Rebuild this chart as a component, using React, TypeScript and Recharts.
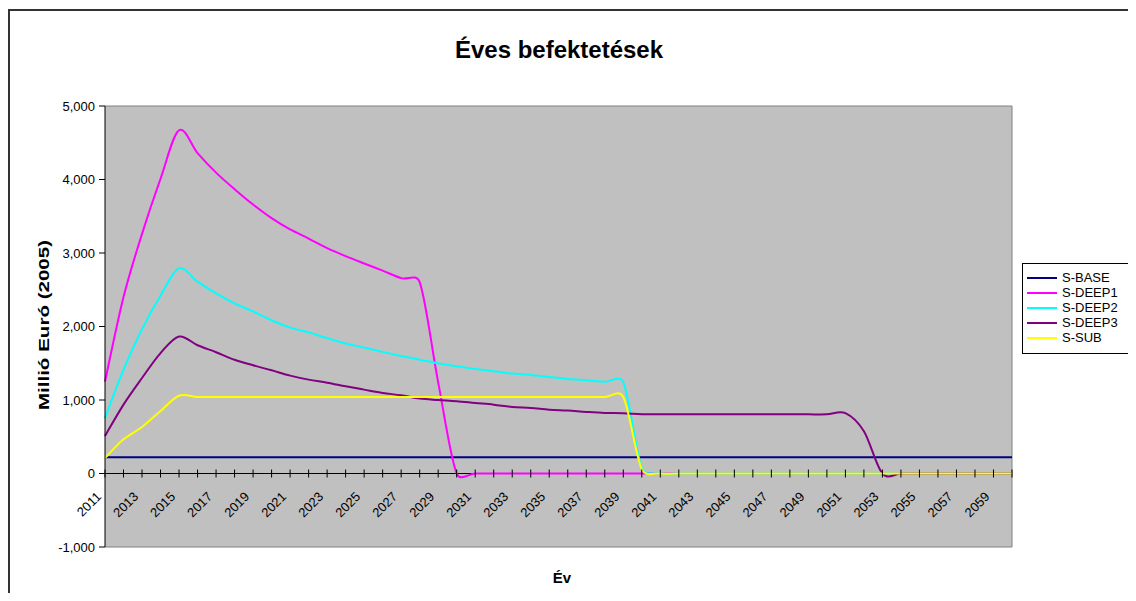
import React from 'react';
import { LineChart, Line, XAxis, YAxis, CartesianGrid, ReferenceLine, Legend } from 'recharts';

// ---------- data ----------
const years = [
  '2011','2012','2013','2014','2015','2016','2017','2018','2019','2020',
  '2021','2022','2023','2024','2025','2026','2027','2028','2029','2030',
  '2031','2032','2033','2034','2035','2036','2037','2038','2039','2040',
  '2041','2042','2043','2044','2045','2046','2047','2048','2049','2050',
  '2051','2052','2053','2054','2055','2056','2057','2058','2059','2060',
];

const sBase = [
  220,220,220,220,220,220,220,220,220,220,
  220,220,220,220,220,220,220,220,220,220,
  220,220,220,220,220,220,220,220,220,220,
  220,220,220,220,220,220,220,220,220,220,
  220,220,220,220,220,220,220,220,220,220,
];

const sDeep1 = [
  1250,2400,3260,4010,4670,4360,4094,3868,3659,3474,
  3320,3197,3066,2957,2857,2760,2658,2604,1240,0,
  0,0,0,0,0,0,0,0,0,0,
  0,0,0,0,0,0,0,0,0,0,
  0,0,0,0,0,0,0,0,0,0,
];

const sDeep2 = [
  755,1412,1964,2421,2792,2610,2450,2315,2205,2085,
  1985,1920,1842,1768,1715,1655,1600,1549,1499,1458,
  1422,1390,1359,1341,1313,1286,1268,1248,1242,80,
  0,0,0,0,0,0,0,0,0,0,
  0,0,0,0,0,0,0,0,0,0,
];

const sDeep3 = [
  510,937,1299,1638,1864,1745,1650,1548,1472,1404,
  1332,1277,1236,1187,1141,1096,1064,1019,1000,984,
  960,937,906,892,869,856,838,824,820,806,
  805,805,805,805,805,805,805,805,805,805,
  822,575,0,0,0,0,0,0,0,0,
];

const sSub = [
  210,465,632,850,1058,1042,1042,1042,1042,1042,
  1042,1042,1042,1042,1042,1042,1042,1042,1042,1042,
  1042,1042,1042,1042,1042,1042,1042,1042,1040,60,
  0,0,0,0,0,0,0,0,0,0,
  0,0,0,0,0,0,0,0,0,0,
];

const yTicks = [-1000, 0, 1000, 2000, 3000, 4000, 5000];

const seriesNames = ['S-BASE', 'S-DEEP1', 'S-DEEP2', 'S-DEEP3', 'S-SUB'];
const seriesColors = ['#000080', '#FF00FF', '#00FFFF', '#800080', '#FFFF00'];

const rows = years.map((year, i) => ({
  year,
  base: sBase[i],
  deep1: sDeep1[i],
  deep2: sDeep2[i],
  deep3: sDeep3[i],
  sub: sSub[i],
}));

// ---------- layout ----------
const FONT = '"Liberation Sans", Arial, Helvetica, sans-serif';
const CHART_W = 1128;
const CHART_H = 585;
const M_TOP = 98;
const M_RIGHT = 124;
const X_AXIS_H = 46;
const Y_AXIS_W = 97;
const Y_MIN = -1000;
const Y_MAX = 5000;
const PLOT_H = CHART_H - M_TOP - X_AXIS_H;
const ZERO_Y = M_TOP + PLOT_H * (Y_MAX / (Y_MAX - Y_MIN));

// Excel-like smoothed line: Catmull-Rom Bezier with control arms clamped to half the segment
const excelSmooth: any = (context: any) => {
  let pts: number[][] = [];
  const dist = (a: number[], b: number[]) => Math.hypot(b[0] - a[0], b[1] - a[1]);
  return {
    areaStart() {},
    areaEnd() {},
    lineStart() { pts = []; },
    point(x: number, y: number) { pts.push([+x, +y]); },
    lineEnd() {
      const n = pts.length;
      if (!n) return;
      context.moveTo(pts[0][0], pts[0][1]);
      if (n === 1) return;
      for (let i = 0; i < n - 1; i++) {
        const p0 = pts[Math.max(i - 1, 0)];
        const p1 = pts[i];
        const p2 = pts[i + 1];
        const p3 = pts[Math.min(i + 2, n - 1)];
        const d12 = dist(p1, p2);
        const d02 = dist(p0, p2);
        const d13 = dist(p1, p3);
        let f0 = 1 / 6;
        let f1 = 1 / 6;
        if (d02 > 0 && d02 / 6 >= d12 / 2) f0 = d12 / (2 * d02);
        if (d13 > 0 && d13 / 6 >= d12 / 2) f1 = d12 / (2 * d13);
        context.bezierCurveTo(
          p1[0] + f0 * (p2[0] - p0[0]),
          p1[1] + f0 * (p2[1] - p0[1]),
          p2[0] - f1 * (p3[0] - p1[0]),
          p2[1] - f1 * (p3[1] - p1[1]),
          p2[0],
          p2[1]
        );
      }
    },
  };
};

const fmt = (v: number) => v.toLocaleString('en-US');

const XTick = (props: any) => {
  const { x, payload, index } = props;
  const idx = payload && payload.index != null ? payload.index : index;
  const lx = x - 3;
  const ly = ZERO_Y + 24;
  return (
    <g>
      <line x1={x} x2={x} y1={ZERO_Y - 4} y2={ZERO_Y + 4} stroke="#000" strokeWidth={1} />
      {idx % 2 === 0 && (
        <text
          x={lx}
          y={ly}
          textAnchor="end"
          transform={`rotate(-45, ${lx}, ${ly})`}
          fontSize={13}
          fontFamily={FONT}
          fill="#000"
        >
          {payload.value}
        </text>
      )}
    </g>
  );
};

const LegendBox = (props: any) => {
  const payload = props.payload || [];
  return (
    <div
      style={{
        border: '1px solid #000',
        background: '#fff',
        padding: '6px 0 8px 4px',
        width: 130,
        fontFamily: FONT,
        fontSize: 13,
        color: '#000',
      }}
    >
      {payload.map((p: any) => (
        <div key={p.value} style={{ display: 'flex', alignItems: 'center', height: 15 }}>
          <svg width={30} height={4} style={{ display: 'block' }}>
            <line x1={0} x2={30} y1={2} y2={2} stroke={p.color} strokeWidth={2} />
          </svg>
          <span style={{ marginLeft: 5, lineHeight: '15px' }}>{p.value}</span>
        </div>
      ))}
    </div>
  );
};

export default function App() {
  const keys = ['base', 'deep1', 'deep2', 'deep3', 'sub'];
  return (
    <div style={{ position: 'relative', width: CHART_W, height: CHART_H, overflow: 'hidden', background: '#fff' }}>
      <div
        style={{
          position: 'absolute',
          left: 0,
          top: 1,
          width: 1400,
          height: 900,
          borderLeft: '2px solid #333',
          borderTop: '2px solid #333',
          boxSizing: 'border-box',
        }}
      />
      <LineChart
        width={CHART_W}
        height={CHART_H}
        data={rows}
        margin={{ top: M_TOP, right: M_RIGHT, bottom: 0, left: 0 }}
      >
        <CartesianGrid horizontal={false} vertical={false} fill="#C0C0C0" fillOpacity={1} />
        <XAxis
          dataKey="year"
          interval={0}
          axisLine={false}
          tickLine={false}
          height={X_AXIS_H}
          tick={<XTick />}
        />
        <YAxis
          domain={[Y_MIN, Y_MAX]}
          ticks={yTicks}
          width={Y_AXIS_W}
          tickSize={6}
          tickMargin={4}
          allowDataOverflow
          axisLine={{ stroke: '#000', strokeWidth: 1 }}
          tickLine={{ stroke: '#000', strokeWidth: 1 }}
          tick={{ fontSize: 13, fill: '#000', fontFamily: FONT }}
          tickFormatter={fmt}
        />
        <ReferenceLine y={Y_MAX} stroke="#808080" strokeWidth={1} />
        <ReferenceLine y={Y_MIN} stroke="#808080" strokeWidth={1} />
        <ReferenceLine x={years[years.length - 1]} stroke="#808080" strokeWidth={1} />
        <ReferenceLine y={0} stroke="#000" strokeWidth={1} />
        <Legend
          layout="vertical"
          align="center"
          verticalAlign="middle"
          content={<LegendBox />}
          wrapperStyle={{ left: 1014, top: 255, width: 'auto' }}
        />
        {keys.map((k, i) => (
          <Line
            key={k}
            dataKey={k}
            name={seriesNames[i]}
            stroke={seriesColors[i]}
            strokeWidth={2}
            dot={false}
            activeDot={false}
            type={excelSmooth}
            isAnimationActive={false}
          />
        ))}
      </LineChart>
      <div
        style={{
          position: 'absolute',
          left: 0,
          top: 30,
          width: 1102,
          textAlign: 'center',
          fontFamily: FONT,
          fontWeight: 'bold',
          fontSize: 24,
          lineHeight: '24px',
          color: '#000',
        }}
      >
        Éves befektetések
      </div>
      <div
        style={{
          position: 'absolute',
          left: 36 - 110,
          top: 317 - 10,
          width: 220,
          height: 20,
          lineHeight: '20px',
          textAlign: 'center',
          transform: 'rotate(-90deg) scaleX(1.37)',
          fontFamily: FONT,
          fontWeight: 'bold',
          fontSize: 15,
          color: '#000',
        }}
      >
        Millió Euró (2005)
      </div>
      <div
        style={{
          position: 'absolute',
          left: 554 - 50,
          top: 570 - 10,
          width: 100,
          height: 20,
          lineHeight: '20px',
          textAlign: 'center',
          fontFamily: FONT,
          fontWeight: 'bold',
          fontSize: 15,
          color: '#000',
        }}
      >
        Év
      </div>
    </div>
  );
}
